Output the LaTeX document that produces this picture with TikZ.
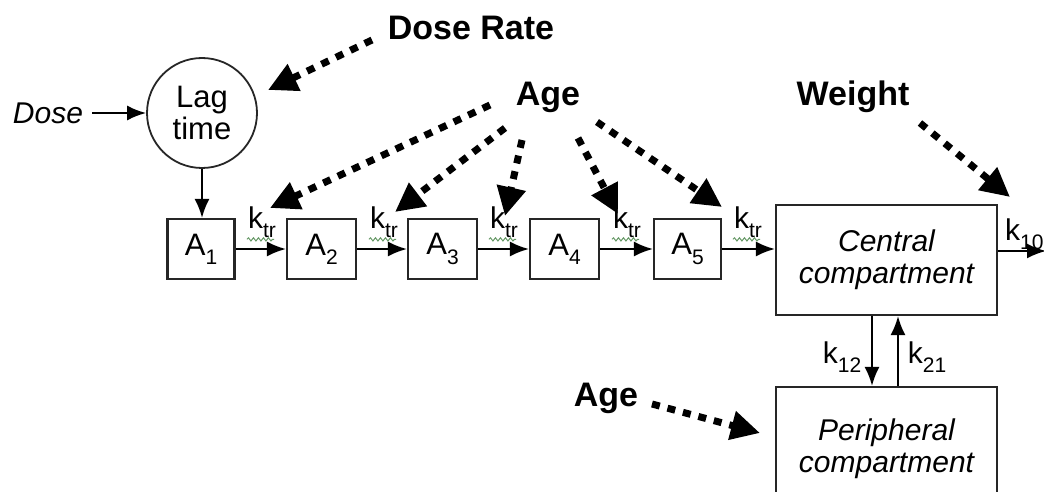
\documentclass[tikz,border=0pt]{standalone}
\usepackage{fontspec}
\setmainfont{Liberation Sans}
\usetikzlibrary{arrows.meta,decorations.pathmorphing}
\newcommand\mysub[1]{\raisebox{-0.3em}{\fontsize{21}{21}\selectfont #1}}
\begin{document}
\begin{tikzpicture}[x=1pt,y=-1pt,
  box/.style={draw=black!85,line width=2.2pt,inner sep=0pt,font=\fontsize{31}{33}\selectfont},
  flow/.style={line width=2pt,-{Latex[length=19pt,width=15pt]}},
  infl/.style={line width=7pt,dash pattern=on 8pt off 8pt,-{Triangle[length=29pt,width=28pt]}},
  lbl/.style={font=\fontsize{30}{32}\selectfont,inner sep=0pt},
  big/.style={font=\fontsize{34}{36}\selectfont\bfseries,inner sep=0pt},
  squig/.style={gray!80!green,line width=1pt,decorate,decoration={snake,amplitude=1.6pt,segment length=5pt}}]
\clip (0,0) rectangle (1044,492);
\fill[white] (0,0) rectangle (1044,492);
% main nodes
\node[lbl,font=\fontsize{30}{32}\selectfont\itshape] (dose) at (48,113) {Dose};
\node[box,circle,minimum size=110pt,align=center,line width=1.8pt] (lag) at (202,113) {Lag\\[-1pt]time};
\node[box,minimum width=67pt,minimum height=60pt] (A1) at (201,249) {A\mysub{1}};
\node[box,minimum width=69pt,minimum height=60pt] (A2) at (321.5,249) {A\mysub{2}};
\node[box,minimum width=69pt,minimum height=60pt] (A3) at (442.5,249) {A\mysub{3}};
\node[box,minimum width=69pt,minimum height=60pt] (A4) at (564.5,249) {A\mysub{4}};
\node[box,minimum width=67pt,minimum height=60pt] (A5) at (687.5,249) {A\mysub{5}};
\node[box,minimum width=221pt,minimum height=110pt,align=center,font=\fontsize{30}{32}\selectfont\itshape] (central) at (886.5,260) {Central\\compartment};
\node[box,minimum width=221pt,minimum height=123pt,align=center,font=\fontsize{30}{32}\selectfont\itshape] (periph) at (886.5,448.5) {Peripheral\\compartment};
\coordinate (out) at (1046,251);
\coordinate (dstart) at (92,113);
% solid flows
\draw[flow] (dstart) -- (lag.west);
\draw[flow] (lag.south) -- (lag.south |- A1.north);
\draw[flow] (A1) -- (A2);
\draw[flow] (A2) -- (A3);
\draw[flow] (A3) -- (A4);
\draw[flow] (A4) -- (A5);
\draw[flow] (A5) -- (A5 -| central.west);
\draw[flow] (central.east |- out) -- (out);
\draw[flow] ([xshift=-14.5pt]central.south) -- ([xshift=-14.5pt]periph.north);
\draw[flow] ([xshift=11.5pt]periph.north) -- ([xshift=11.5pt]central.south);
% rate labels
\foreach \n/\x in {1/262,2/384,3/504,4/627,5/748}{
  \node[lbl,anchor=base] (kt\n) at (\x,228) {k\mysub{tr}};
  \draw[squig] ([xshift=-1pt,yshift=-2pt]kt\n.south west) -- ([xshift=-2pt,yshift=-2pt]kt\n.south east);
}
\node[lbl,anchor=base west] (k10) at (1005,240) {k\mysub{10}};
\node[lbl,anchor=base] (k12) at (842,363) {k\mysub{12}};
\node[lbl,anchor=base] (k21) at (927,363) {k\mysub{21}};
% covariates
\node[big] (doserate) at (471,28) {Dose Rate};
\node[big] (age) at (548,97) {Age};
\node[big] (weight) at (853,97) {Weight};
\node[big] (age2) at (606,398) {Age};
\coordinate (dr0) at (372,40);  \coordinate (dr1) at (268,90);
\coordinate (a10) at (490,105); \coordinate (a11) at (270,208);
\coordinate (a20) at (505,128); \coordinate (a21) at (395,212);
\coordinate (a30) at (522,140); \coordinate (a31) at (505,216);
\coordinate (a40) at (578,138); \coordinate (a41) at (618,214);
\coordinate (a50) at (597,122); \coordinate (a51) at (722,207);
\coordinate (w0) at (920,123);  \coordinate (w1) at (1010,197);
\coordinate (b0) at (652,404);  \coordinate (b1) at (760,433);
\draw[infl] (dr0) -- (dr1);
\draw[infl] (a10) -- (a11);
\draw[infl] (a20) -- (a21);
\draw[infl] (a30) -- (a31);
\draw[infl] (a40) -- (a41);
\draw[infl] (a50) -- (a51);
\draw[infl] (w0) -- (w1);
\draw[infl] (b0) -- (b1);
\end{tikzpicture}
\end{document}
